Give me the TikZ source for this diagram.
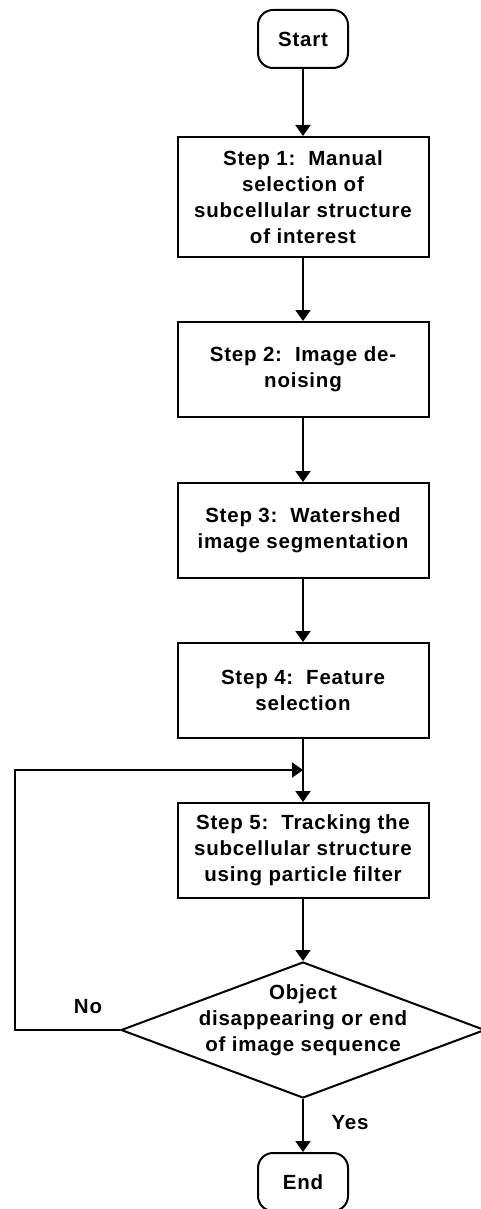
\documentclass[tikz,border=0pt]{standalone}
\usepackage{fontspec}
\setmainfont{Liberation Sans}[LetterSpace=3.8]
\usetikzlibrary{shapes.geometric,arrows.meta}
\begin{document}
\begin{tikzpicture}[x=1pt,y=-1pt,
  every node/.style={font=\fontsize{20.5}{26}\selectfont\bfseries, align=center, inner sep=0pt},
  stepbox/.style={draw, line width=2pt, minimum width=251pt},
  termbox/.style={draw, line width=2pt, rounded corners=15pt, minimum width=90pt, minimum height=58pt},
  conn/.style={line width=2pt, -{Triangle[width=15pt,length=11pt]}},
  lbl/.style={}]
\useasboundingbox (0,0) rectangle (480,1209);
\node[termbox] (start) at (303,39) {Start};
\node[stepbox, minimum height=120pt] (s1) at (303,197) {Step 1:\ \ Manual\\selection of\\subcellular structure\\of interest};
\node[stepbox, minimum height=95pt] (s2) at (303,369.5) {Step 2:\ \ Image de-\\noising};
\node[stepbox, minimum height=95pt] (s3) at (303,530.5) {Step 3:\ \ Watershed\\image segmentation};
\node[stepbox, minimum height=95pt] (s4) at (303,690.5) {Step 4:\ \ Feature\\selection};
\node[stepbox, minimum height=95pt] (s5) at (303,850.5) {Step 5:\ \ Tracking the\\subcellular structure\\using particle filter};
\node[diamond, draw, line width=2pt, minimum width=364pt, minimum height=136pt] (dec) at (303,1030) {};
\node (dectext) at (303,1020) {Object\\disappearing or end\\of image sequence};
\node[termbox] (end) at (303,1182) {End};
\node[lbl] (no) at (88,1007) {No};
\node[lbl] (yes) at (350,1123) {Yes};
\coordinate (loopL) at (15,1030);
\coordinate (loopT) at (15,770);
\coordinate (join) at (303,770);
\draw[conn] (start) -- (s1);
\draw[conn] (s1) -- (s2);
\draw[conn] (s2) -- (s3);
\draw[conn] (s3) -- (s4);
\draw[conn] (s4) -- (s5);
\draw[conn] (s5) -- (dec.north);
\draw[conn] (dec.south) -- (end);
\draw[conn] (dec.west) -- (loopL) -- (loopT) -- (join);
\end{tikzpicture}
\end{document}
